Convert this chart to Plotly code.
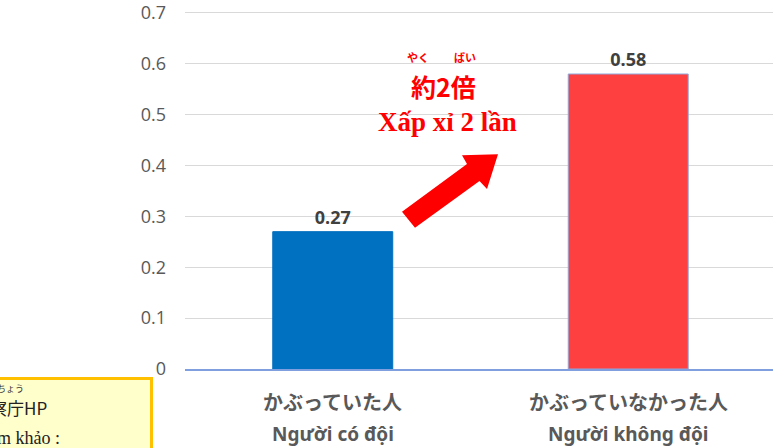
import plotly.graph_objects as go

# Data
categories_jp = ["かぶっていた人", "かぶっていなかった人"]
categories_vi = ["Người có đội", "Người không đội"]
values = [0.27, 0.58]
bar_colors = ["#0070C0", "#FF4040"]
y_ticks = [0, 0.1, 0.2, 0.3, 0.4, 0.5, 0.6, 0.7]

W, H = 773, 448
L, R, T, B = 185, 0, 1, 79
PW, PH = W - L - R, H - T - B
Y_SCALE = 511.4          # pixels per unit on the value axis
Y_MAX = PH / Y_SCALE


def px(x):
    return (x - L) / PW


def py(y):
    return (H - B - y) / PH


fig = go.Figure()
fig.add_trace(go.Bar(
    x=[0, 1],
    y=values,
    width=0.406,
    marker=dict(color=bar_colors,
                line=dict(color=["#0070C0", "#8FA8DC"], width=1)),
    text=[f"{v:.2f}" for v in values],
    textposition="outside",
    textfont=dict(family="Open Sans", size=18, color="#404040", weight="bold"),
    cliponaxis=False,
    hoverinfo="skip",
))

annotations = []
# Category labels (two lines: Japanese / Vietnamese)
for i, (jp, vi) in enumerate(zip(categories_jp, categories_vi)):
    annotations.append(dict(x=i, y=py(402), xref="x", yref="paper", text=f"<b>{jp}</b>",
                            showarrow=False, yanchor="middle",
                            font=dict(family="Noto Sans CJK JP", size=20, color="#595959")))
    annotations.append(dict(x=i, y=py(434), xref="x", yref="paper", text=f"<b>{vi}</b>",
                            showarrow=False, yanchor="middle",
                            font=dict(family="Noto Sans", size=19, color="#595959")))

# "about 2 times" callout
annotations += [
    dict(x=px(443), y=py(84), xref="paper", yref="paper", text="<b>約2倍</b>", showarrow=False,
         yanchor="middle", font=dict(family="Noto Sans CJK JP", size=25, color="#FF0000")),
    dict(x=px(418), y=py(55), xref="paper", yref="paper", text="<b>やく</b>", showarrow=False,
         yanchor="middle", font=dict(family="Noto Sans CJK JP", size=11, color="#FF0000")),
    dict(x=px(465), y=py(55), xref="paper", yref="paper", text="<b>ばい</b>", showarrow=False,
         yanchor="middle", font=dict(family="Noto Sans CJK JP", size=11, color="#FF0000")),
    dict(x=px(447), y=py(121), xref="paper", yref="paper", text="<b>Xấp xỉ 2 lần</b>",
         showarrow=False, yanchor="middle",
         font=dict(family="Liberation Serif", size=27, color="#FF0000")),
]

# Source note box (bottom left)
annotations += [
    dict(x=px(26), y=py(389), xref="paper", yref="paper", text="けいさつちょう",
         showarrow=False, xanchor="right", yanchor="middle",
         font=dict(family="Noto Sans CJK JP", size=9, color="#333333")),
    dict(x=px(49), y=py(408), xref="paper", yref="paper", text="出典：警察庁HP",
         showarrow=False, xanchor="right", yanchor="middle",
         font=dict(family="Noto Sans CJK JP", size=17, color="#222222")),
    dict(x=px(62), y=py(438), xref="paper", yref="paper", text="Tham khảo :",
         showarrow=False, xanchor="right", yanchor="middle",
         font=dict(family="Liberation Serif", size=18, color="#222222")),
]

# Arrow polygon (pixel positions converted to paper)
arrow_pts = [(402, 211), (467, 163), (462, 154), (498, 153), (487, 188), (479.5, 180), (415, 227)]
arrow_path = "M " + " L ".join(f"{px(x):.5f},{py(y):.5f}" for x, y in arrow_pts) + " Z"

shapes = [
    dict(type="rect", xref="paper", yref="paper",
         x0=px(-10), x1=px(151.5), y0=py(378.5), y1=py(470),
         fillcolor="#FFFFCC", line=dict(color="#FFC000", width=3), layer="above"),
    dict(type="path", xref="paper", yref="paper", path=arrow_path,
         fillcolor="#FF0000", line=dict(width=0), layer="above"),
]

fig.update_layout(
    width=W, height=H,
    margin=dict(l=L, r=R, t=T, b=B, pad=0),
    paper_bgcolor="white", plot_bgcolor="white",
    showlegend=False,
    annotations=annotations,
    shapes=shapes,
    xaxis=dict(range=[-0.5, 1.49], showticklabels=False, showgrid=False,
               zeroline=False, showline=True, linecolor="#7F9FDF", linewidth=2,
               fixedrange=True),
    yaxis=dict(range=[0, Y_MAX], tickvals=y_ticks,
               ticktext=["0" if v == 0 else f"{v:.1f}" for v in y_ticks],
               showgrid=True, gridcolor="#D9D9D9", gridwidth=1, zeroline=False,
               showline=False, ticks="", ticklabelstandoff=18,
               ticklabeloverflow="allow",
               tickfont=dict(family="Open Sans", size=18, color="#595959"),
               fixedrange=True),
)

fig.write_html("out.html")
